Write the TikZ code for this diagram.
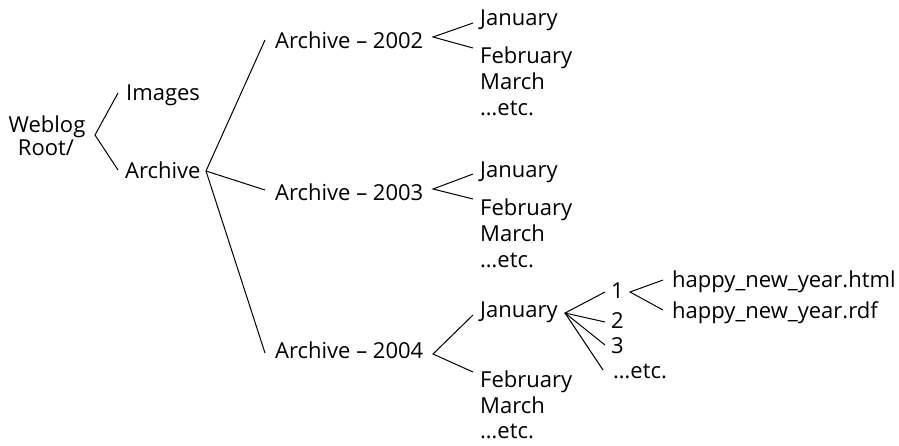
\documentclass[tikz,border=0pt]{standalone}
\usepackage{fontspec}
\setmainfont{Open Sans}
\begin{document}
\begin{tikzpicture}[x=1pt,y=-1pt,
  lbl/.style={anchor=base west,inner sep=0pt,font=\fontsize{22}{26}\selectfont},
  branch/.style={line width=1pt,black}]
\useasboundingbox (0,0) rectangle (899,445);
% nodes
\node[lbl,anchor=base] (weblog) at (47,132) {Weblog};
\node[lbl,anchor=base] (rootn) at (46,155) {Root/};
\node[lbl] (images) at (126,100) {Images};
\node[lbl] (archive) at (125,178) {Archive};
\node[lbl] (a2002) at (275,48) {Archive – 2002};
\node[lbl] (a2003) at (275,200) {Archive – 2003};
\node[lbl] (a2004) at (275,358) {Archive – 2004};
\node[lbl] (jan2) at (480,25) {January};
\node[lbl] (feb2) at (480,63) {February};
\node[lbl] (mar2) at (480,89) {March};
\node[lbl] (etc2) at (480,115) {\dots etc.};
\node[lbl] (jan3) at (480,177) {January};
\node[lbl] (feb3) at (480,215) {February};
\node[lbl] (mar3) at (480,241) {March};
\node[lbl] (etc3) at (480,267) {\dots etc.};
\node[lbl] (jan4) at (480,317) {January};
\node[lbl] (feb4) at (480,387) {February};
\node[lbl] (mar4) at (480,413) {March};
\node[lbl] (etc4) at (480,438) {\dots etc.};
\node[lbl] (n1) at (611,298) {1};
\node[lbl] (n2) at (611,328) {2};
\node[lbl] (n3) at (611,353) {3};
\node[lbl] (netc) at (613,378) {\dots etc.};
\node[lbl] (html) at (672,287) {happy\_new\_year.html};
\node[lbl] (rdf) at (672,318) {happy\_new\_year.rdf};
% branch points
\coordinate (v0) at (95,135);
\coordinate (v1) at (206,171);
\coordinate (v2) at (433,37);
\coordinate (v3) at (433,189);
\coordinate (v4) at (433,354);
\coordinate (vj) at (565,313);
\coordinate (vn) at (630,292);
% connectors
\draw[branch] ([shift={(-8,-7)}]images.base west) -- (v0) -- ([shift={(-7,-8)}]archive.base west);
\draw[branch] ([shift={(-10,-8)}]a2002.base west) -- (v1) -- ([shift={(-10,-5)}]a2004.base west);
\draw[branch] (v1) -- ([shift={(-10,-10)}]a2003.base west);
\draw[branch] ([shift={(-7,-2)}]jan2.base west) -- (v2) -- ([shift={(-7,-15)}]feb2.base west);
\draw[branch] ([shift={(-7,-3)}]jan3.base west) -- (v3) -- ([shift={(-7,-16)}]feb3.base west);
\draw[branch] ([shift={(-7,-2)}]jan4.base west) -- (v4) -- ([shift={(-7,-15)}]feb4.base west);
\draw[branch] ([shift={(-6,-6)}]n1.base west) -- (vj) -- ([shift={(-6,-6)}]n2.base west);
\draw[branch] (vj) -- ([shift={(-6,-8)}]n3.base west);
\draw[branch] (vj) -- ([shift={(-10,-8)}]netc.base west);
\draw[branch] ([shift={(-9,-7)}]html.base west) -- (vn) -- ([shift={(-9,-8)}]rdf.base west);
\end{tikzpicture}
\end{document}
